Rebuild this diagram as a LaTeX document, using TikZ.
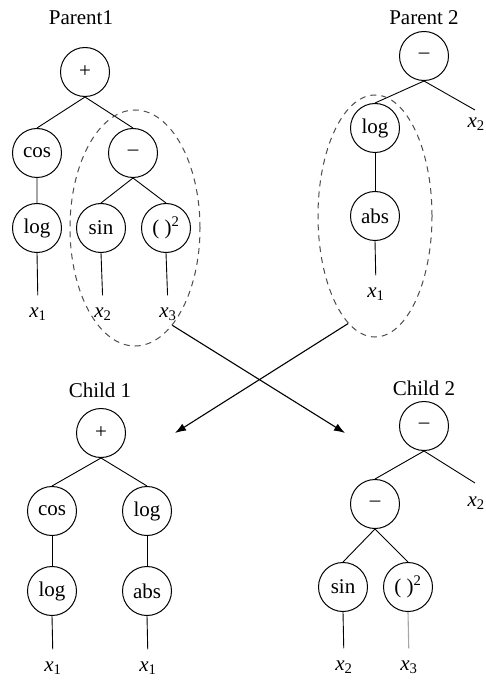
\documentclass[tikz,border=0pt]{standalone}
\usepackage{fontspec}
\setmainfont{Liberation Serif}
\usetikzlibrary{arrows.meta,shapes.geometric}
\begin{document}
\begin{tikzpicture}[x=1pt,y=-1pt,
  op/.style={circle,draw,line width=1pt,minimum size=49pt,inner sep=0pt,font=\fontsize{21}{25}\selectfont},
  lbl/.style={font=\fontsize{21}{25}\selectfont,inner sep=0pt},
  var/.style={font=\fontsize{21}{25}\selectfont,inner sep=0pt},
  edge/.style={line width=0.9pt},
  gedge/.style={line width=1.1pt,gray!70},
  sel/.style={ellipse,draw=black!70,dashed,dash pattern=on 6pt off 5pt,line width=1pt,inner sep=0pt},
  xarrow/.style={line width=1.1pt,-{Latex[length=11pt,width=8pt]}}]
\useasboundingbox (0,0) rectangle (486,684);
\newcommand{\xv}[1]{\textit{x}\textsubscript{#1}}
% ---------- Parent 1 ----------
\node[lbl] (p1t) at (81,18) {Parent1};
\node[op] (p1plus) at (85,72) {+};
\node[op] (p1cos) at (37,153) {cos};
\node[op] (p1minus) at (133,153) {--};
\node[op] (p1log) at (37,228) {log};
\node[op] (p1sin) at (101,228) {sin};
\node[op] (p1sq) at (166,228) {( )\textsuperscript{2}};
\node[var] (p1x1) at (38,314) {\xv{1}};
\node[var] (p1x2) at (103,314) {\xv{2}};
\node[var] (p1x3) at (168,314) {\xv{3}};
\draw[edge] (p1plus.south) -- (p1cos.north);
\draw[edge] (p1plus.south) -- (p1minus.north);
\draw[gedge] (p1cos.south) -- (p1log.north);
\draw[edge] (p1minus.south) -- (p1sin.north);
\draw[edge] (p1minus.south) -- (p1sq.north);
\draw[edge,shorten >=12pt] (p1log.south) -- (p1x1.north);
\draw[edge,shorten >=12pt] (p1sin.south) -- (p1x2.north);
\draw[edge,shorten >=12pt] (p1sq.south) -- (p1x3.north);
\node[sel,minimum width=130pt,minimum height=236pt] (e1) at (135,228) {};
% ---------- Parent 2 ----------
\node[lbl] (p2t) at (424,18) {Parent 2};
\node[op] (p2minus) at (424,56) {--};
\node[op] (p2log) at (375,128) {log};
\node[op] (p2abs) at (375,216) {abs};
\node[var] (p2x1) at (376,294) {\xv{1}};
\coordinate (p2x2e) at (475,110);
\node[var,anchor=east] (p2x2) at (485,124) {\xv{2}};
\draw[edge] (p2minus.south) -- (p2log.north);
\draw[edge] (p2minus.south) -- (p2x2e);
\draw[edge] (p2log.south) -- (p2abs.north);
\draw[edge,shorten >=12pt] (p2abs.south) -- (p2x1.north);
\node[sel,minimum width=114pt,minimum height=242pt] (e2) at (375,216) {};
% ---------- crossover arrows ----------
\coordinate (tip1) at (345,433);
\coordinate (tip2) at (175,433);
\draw[xarrow] (e1.-69) -- (tip1);
\draw[xarrow] (e2.-104) -- (tip2);
% ---------- Child 1 ----------
\node[lbl] (c1t) at (100,390) {Child 1};
\node[op] (c1plus) at (101,433) {+};
\node[op] (c1cos) at (52,511) {cos};
\node[op] (c1log) at (147,511) {log};
\node[op] (c1log2) at (52,591) {log};
\node[op] (c1abs) at (147,591) {abs};
\node[var] (c1x1a) at (53,668) {\xv{1}};
\node[var] (c1x1b) at (148,668) {\xv{1}};
\draw[edge] (c1plus.south) -- (c1cos.north);
\draw[edge] (c1plus.south) -- (c1log.north);
\draw[edge] (c1cos.south) -- (c1log2.north);
\draw[edge] (c1log.south) -- (c1abs.north);
\draw[edge,shorten >=12pt] (c1log2.south) -- (c1x1a.north);
\draw[edge,shorten >=12pt] (c1abs.south) -- (c1x1b.north);
% ---------- Child 2 ----------
\node[lbl] (c2t) at (424,388) {Child 2};
\node[op] (c2minus) at (424,426) {--};
\node[op] (c2minus2) at (375,504) {--};
\node[op] (c2sin) at (343,587) {sin};
\node[op] (c2sq) at (408,587) {( )\textsuperscript{2}};
\coordinate (c2x2e) at (475,483);
\node[var,anchor=east] (c2x2) at (485,503) {\xv{2}};
\node[var] (c2x2b) at (344,667) {\xv{2}};
\node[var] (c2x3) at (409,667) {\xv{3}};
\draw[edge] (c2minus.south) -- (c2minus2.north);
\draw[edge] (c2minus.south) -- (c2x2e);
\draw[edge] (c2minus2.south) -- (c2sin.north);
\draw[edge] (c2minus2.south) -- (c2sq.north);
\draw[edge,shorten >=12pt] (c2sin.south) -- (c2x2b.north);
\draw[gedge,shorten >=12pt] (c2sq.south) -- (c2x3.north);
\end{tikzpicture}
\end{document}
